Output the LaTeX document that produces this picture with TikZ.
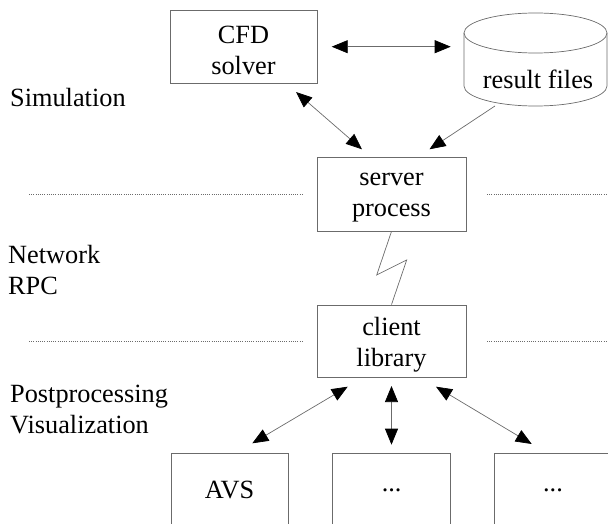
\documentclass[tikz,border=0pt]{standalone}
\usepackage{fontspec}
\setmainfont{Liberation Serif}
\usetikzlibrary{arrows.meta}
\definecolor{ln}{gray}{0.42}
\begin{document}
\begin{tikzpicture}[x=1pt,y=-1pt,
  txt/.style={font=\fontsize{26.3}{31}\selectfont, inner sep=0pt},
  lbl/.style={txt, align=left, anchor=base west},
  box/.style={txt, draw=ln, line width=0.8pt, align=center},
  inbox/.style={label={[txt,align=center,yshift=-3.5pt]center:{#1}}},
  conn/.style={draw=ln, line width=0.7pt},
  tipb/.style={{Triangle[length=16pt,width=13pt,color=black]}-{Triangle[length=16pt,width=13pt,color=black]}},
  tipe/.style={-{Triangle[length=16pt,width=13pt,color=black]}},
  dotline/.style={draw=ln, line width=0.6pt, dash pattern=on 1pt off 1.2pt}
]
\useasboundingbox (0,0) rectangle (608,524);

% boxes
\node[box, minimum width=147pt, minimum height=73pt, inbox={CFD\\solver}] (cfd) at (243.5,46.5) {};
\node[box, minimum width=149pt, minimum height=74pt, inbox={server\\process}] (server) at (391.5,194) {};
\node[box, minimum width=149pt, minimum height=72pt, inbox={client\\library}] (client) at (391.5,341) {};
\node[box, minimum width=117pt, minimum height=74pt] (avs) at (229.5,490) {AVS};
\node[box, minimum width=118pt, minimum height=74pt] (v2) at (391.7,490) {...};
\node[box, minimum width=118pt, minimum height=74pt] (v3) at (553,490) {...};

% cylinder
\draw[conn] (535.5,33) ellipse [x radius=71.5, y radius=20];
\draw[conn] (464,33) -- (464,86) arc[start angle=180, end angle=360, x radius=71.5, y radius=-20] -- (607,33);
\node[txt, anchor=base] (cyl) at (538,89) {result files};

% side labels (anchor base = baseline of last line)
\node[lbl] (sim) at (10,107) {Simulation};
\node[lbl] (net) at (8,294) {Network\\RPC};
\node[lbl] (post) at (10,433) {Postprocessing\\Visualization};

% dotted separators
\draw[dotline] (29,194) -- (304,194);
\draw[dotline] (487,194) -- (606,194);
\draw[dotline] (29,341.5) -- (304,341.5);
\draw[dotline] (487,341.5) -- (606,341.5);

% connector end points
\coordinate (c1) at (331.7,46.7);
\coordinate (r1) at (450.7,46.7);
\coordinate (c2) at (296,92);
\coordinate (s1) at (362,149.3);
\coordinate (r2) at (495,106);
\coordinate (s2) at (429.5,149.3);
\coordinate (l1) at (347.7,386.7);
\coordinate (a1) at (252.3,443.3);
\coordinate (l2) at (391.5,386);
\coordinate (a2) at (391.5,444.7);
\coordinate (l3) at (436,386.7);
\coordinate (a3) at (531.7,444);

\draw[conn, tipb] (c1) -- (r1);
\draw[conn, tipb] (c2) -- (s1);
\draw[conn, tipe] (r2) -- (s2);
\draw[conn, tipb] (l1) -- (a1);
\draw[conn, tipb] (l2) -- (a2);
\draw[conn, tipb] (l3) -- (a3);

% network zigzag
\draw[conn] (server.south) -- (376.7,275) -- (406.7,260) -- (client.north);
\end{tikzpicture}
\end{document}
